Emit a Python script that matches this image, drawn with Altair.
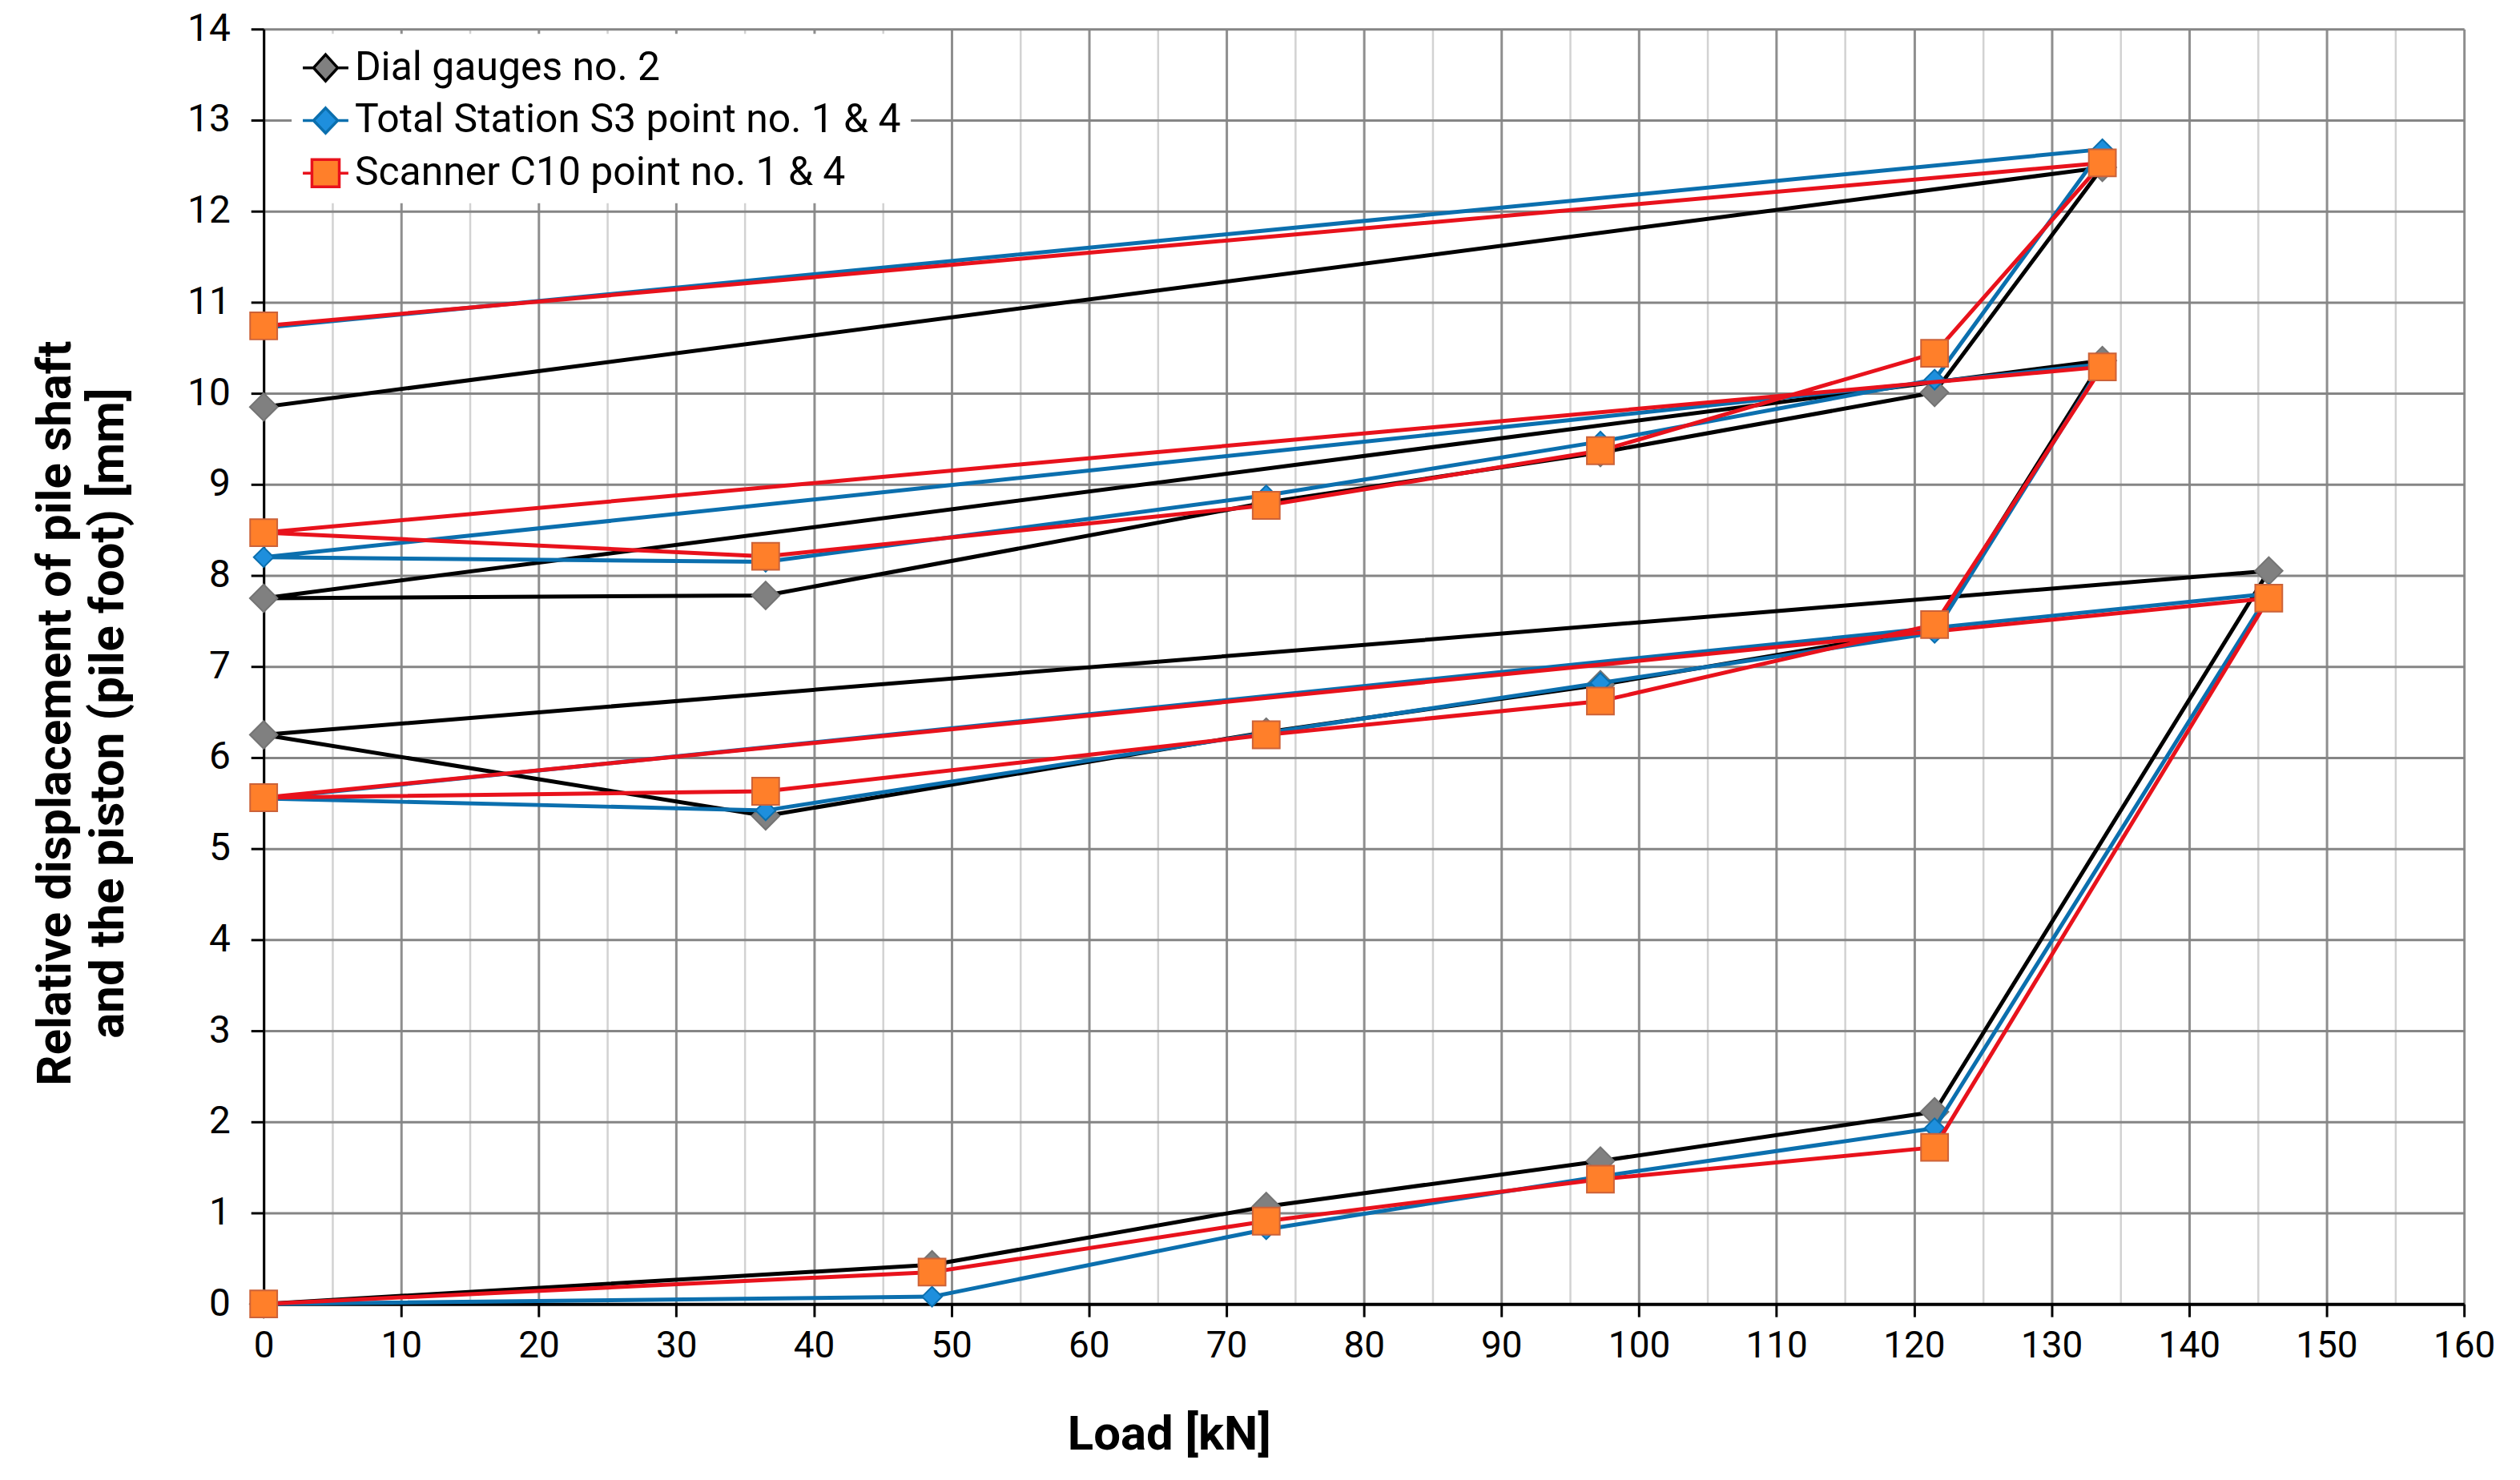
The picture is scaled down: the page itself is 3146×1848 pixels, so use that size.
import altair as alt
import pandas as pd

# ---- data ----
load = [0, 48.6, 72.9, 97.2, 121.5, 145.8,
        0, 36.5, 72.9, 97.2, 121.5, 133.7,
        0, 36.5, 72.9, 97.2, 121.5, 133.7, 0]
dial = [0.0, 0.43, 1.07, 1.57, 2.11, 8.05,
        6.25, 5.36, 6.28, 6.80, 7.42, 10.36,
        7.75, 7.78, 8.80, 9.35, 10.01, 12.48, 9.85]
total_station = [0.0, 0.08, 0.82, 1.40, 1.93, 7.80,
                 5.55, 5.42, 6.27, 6.82, 7.37, 10.32,
                 8.20, 8.15, 8.88, 9.47, 10.15, 12.68, 10.72]
scanner = [0.0, 0.35, 0.91, 1.37, 1.72, 7.75,
           5.56, 5.63, 6.25, 6.62, 7.46, 10.29,
           8.47, 8.21, 8.77, 9.37, 10.44, 12.53, 10.74]
names = ["Dial gauges no. 2",
         "Total Station S3 point no. 1 & 4",
         "Scanner C10 point no. 1 & 4"]
x_ticks = list(range(0, 161, 5))
y_ticks = list(range(0, 15, 1))

# ---- styles ----
FONT = "Roboto, sans-serif"
line_colors = ["#000000", "#0B6FAE", "#E8121C"]
marker_fills = ["#808080", "#1E8FDD", "#FF7F2A"]
marker_strokes = ["#747474", "#0B6FAE", "#CC6238"]
marker_shapes = ["diamond", "diamond", "square"]
marker_sizes = [1200, 620, 1150]
legend_paths = [
    "M-1,0L-0.53,0M0.53,0L1,0M0,-0.58L0.53,0L0,0.58L-0.53,0Z",
    "M-1,0L-0.53,0M0.53,0L1,0M0,-0.55L0.53,0L0,0.55L-0.53,0Z",
    "M-1,0L-0.6,0M0.6,0L1,0M-0.6,-0.6L0.6,-0.6L0.6,0.6L-0.6,0.6Z",
]

rows = []
for name, vals in zip(names, [dial, total_station, scanner]):
    for i, (x, y) in enumerate(zip(load, vals)):
        rows.append({"series": name, "idx": i, "load": x, "disp": y})
df = pd.DataFrame(rows)

x_scale = alt.Scale(domain=[0, 160], nice=False, zero=False)
y_scale = alt.Scale(domain=[0, 14], nice=False, zero=False)

x_axis = alt.Axis(
    values=x_ticks, format="d",
    labelExpr="datum.value % 10 === 0 ? datum.label : ''",
    title="Load [kN]",
    titleFont=FONT, titleFontSize=60, titleFontWeight="bold", titleColor="black",
    titleX=1133, titleY=164, titleAlign="center", titleBaseline="middle",
    labelFont=FONT, labelFontSize=46, labelColor="black", labelPadding=14,
    labelFlush=False, labelOverlap=False,
    grid=True,
    gridColor=alt.condition("datum.value % 10 === 0", alt.value("#8E8E8E"), alt.value("#D2D2D2")),
    gridWidth=alt.condition("datum.value % 10 === 0", alt.value(3), alt.value(2.5)),
    tickColor=alt.condition("datum.value % 10 === 0", alt.value("#000000"), alt.value("transparent")),
    tickSize=16, tickWidth=3,
    domainColor="black", domainWidth=4,
)
y_axis = alt.Axis(
    values=y_ticks, format="d",
    title=["Relative displacement of pile shaft", "and the piston (pile foot) [mm]"],
    titleFont=FONT, titleFontSize=60, titleFontWeight="bold", titleColor="black",
    titleAngle=270, titleX=-260, titleY=856, titleAlign="center", titleBaseline="middle",
    titleLineHeight=66,
    labelFont=FONT, labelFontSize=48, labelColor="black", labelPadding=26,
    labelFlush=False, labelOverlap=False,
    grid=True, gridColor="#858585", gridWidth=3,
    tickColor="black", tickSize=16, tickWidth=3,
    domainColor="black", domainWidth=3,
)

layers = []
for k, name in enumerate(names):
    base = alt.Chart(df).transform_filter(alt.datum.series == name)
    if k == 0:
        xe = alt.X("load:Q", scale=x_scale, axis=x_axis)
        ye = alt.Y("disp:Q", scale=y_scale, axis=y_axis)
    else:
        xe = alt.X("load:Q", scale=x_scale)
        ye = alt.Y("disp:Q", scale=y_scale)
    line = base.mark_line(color=line_colors[k], strokeWidth=5, strokeJoin="round").encode(
        x=xe, y=ye, order=alt.Order("idx:Q"),
    )
    pts = base.mark_point(
        filled=True, shape=marker_shapes[k], size=marker_sizes[k],
        fill=marker_fills[k], stroke=marker_strokes[k], strokeWidth=2, opacity=1,
    ).encode(
        x=alt.X("load:Q", scale=x_scale),
        y=alt.Y("disp:Q", scale=y_scale),
    )
    layers += [line, pts]

leg = alt.Legend(
    title=None, orient="none", legendX=35, legendY=6,
    fillColor="white", padding=12,
    symbolSize=3249, symbolStrokeWidth=3.5,
    labelFont=FONT, labelFontSize=50, labelColor="black",
    labelLimit=3000, labelOffset=6, rowPadding=10,
)
legend_layer = alt.Chart(df).transform_filter("datum.idx < 0").mark_point(
    filled=True, strokeWidth=3.5, opacity=1
).encode(
    x=alt.X("load:Q", scale=x_scale),
    y=alt.Y("disp:Q", scale=y_scale),
    shape=alt.Shape("series:N", scale=alt.Scale(domain=names, range=legend_paths), legend=leg),
    fill=alt.Fill("series:N", scale=alt.Scale(domain=names, range=marker_fills), legend=leg),
    stroke=alt.Stroke("series:N", scale=alt.Scale(domain=names, range=line_colors), legend=leg),
)
layers.append(legend_layer)

chart = alt.layer(*layers).properties(
    width=2754, height=1596,
    autosize=alt.AutoSizeParams(type="none"),
    padding={"left": 322, "top": 26, "right": 62, "bottom": 210},
    background="white",
).configure_view(stroke=None)

chart.save("out.html", embed_options={"renderer": "svg", "actions": False})
